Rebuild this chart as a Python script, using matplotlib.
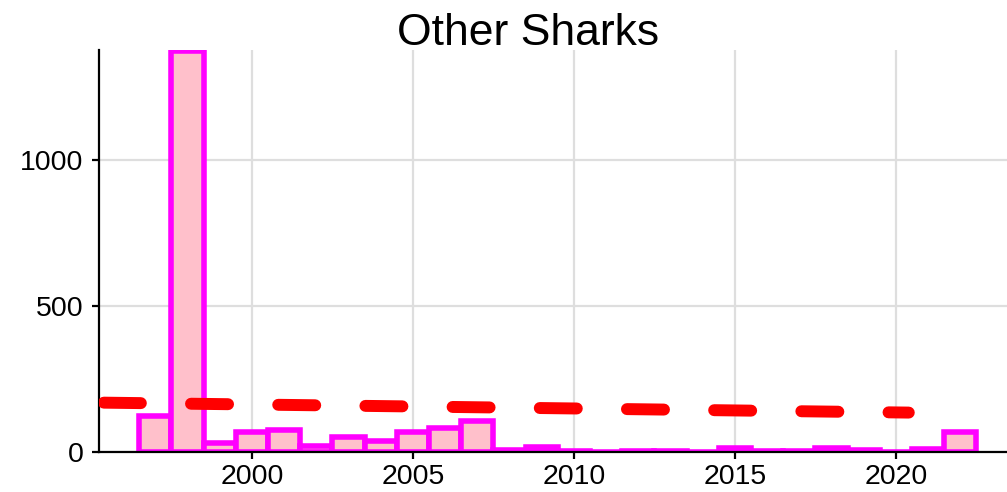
import matplotlib
matplotlib.use("Agg")
from matplotlib import pyplot as plt

# data
years = list(range(1997, 2023))
counts = [122, 1375, 32, 70, 76, 22, 50, 36, 68, 83, 105, 6, 17, 4,
          1, 5, 2, 0, 13, 2, 3, 13, 8, 0, 11, 70]
trend_years = [1995.4, 2020.4]
trend_vals = [169, 135]
xticks = [2000, 2005, 2010, 2015, 2020]
yticks = [0, 500, 1000]

plt.rcParams['font.family'] = ['Liberation Sans', 'DejaVu Sans']

fig = plt.figure(figsize=(10.07, 4.92), dpi=100)
ax = fig.add_axes([99 / 1007, 40 / 492, 1 - 99 / 1007, 402 / 492])

ax.bar(years, counts, width=1.0, color='#FFC0CB', edgecolor='#FF00FF',
       linewidth=4.0, zorder=2)
ax.plot(trend_years, trend_vals, color='#FF0000', linewidth=8.6,
        dashes=(3.1, 4.2), dash_capstyle='round', zorder=3)

ax.set_xlim(1995.25, 2023.45)
ax.set_ylim(0, 1377)
ax.set_xticks(xticks)
ax.set_yticks(yticks)
ax.grid(True, color='#DEDEDE', linewidth=1.6, zorder=0)
ax.set_axisbelow(True)

for s in ['top', 'right']:
    ax.spines[s].set_visible(False)
for s in ['left', 'bottom']:
    ax.spines[s].set_linewidth(1.6)
    ax.spines[s].set_color('black')
ax.tick_params(axis='both', length=5, width=1.6, labelsize=20.5, pad=6,
               colors='black')
ax.tick_params(axis='x', pad=3.5)

fig.text(528 / 1007, 1 - 33 / 492, 'Other Sharks', ha='center', va='center',
         fontsize=32)

fig.savefig('out.png', dpi=100)
